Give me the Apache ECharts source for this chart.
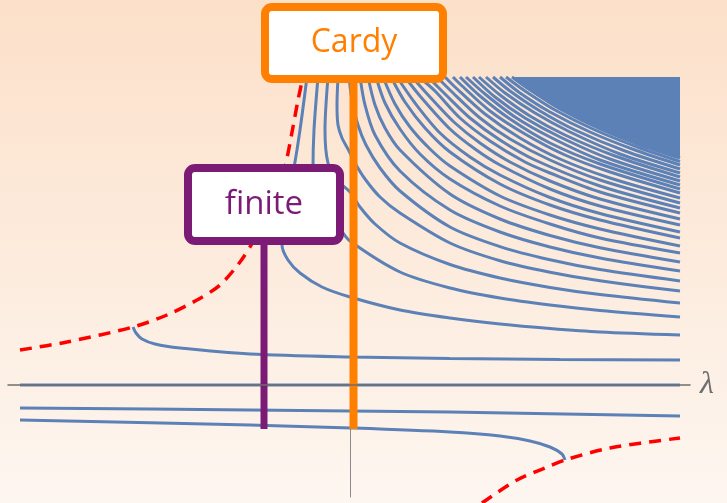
<!DOCTYPE html>
<html>
<head>
<meta charset="utf-8">
<script src="https://cdn.jsdelivr.net/npm/echarts@6/dist/echarts.min.js"></script>
<style>
  html, body { margin: 0; padding: 0; }
  #chart { width: 727px; height: 503px; }
</style>
</head>
<body>
<div id="chart"></div>
<script>
// Spectral flow of energy levels E(λ) under the deformation parameter λ.
// Every curve is a list of [λ, E] samples.

const zeroLevel = [[-3.30, 0], [3.30, 0]];
const levelA = [[-3.30, -0.23], [-1.00, -0.25], [1.00, -0.27], [3.30, -0.31]];
const levelB = [[-3.30, -0.35], [-1.00, -0.40], [0.01, -0.43], [1.00, -0.47], [1.50, -0.51],
                [1.80, -0.56], [2.00, -0.62], [2.12, -0.69], [2.15, -0.75]];
const levelC = [[-2.17, 0.58], [-2.14, 0.52], [-2.08, 0.46], [-1.95, 0.41], [-1.70, 0.37],
                [-1.00, 0.31], [0.01, 0.28], [1.00, 0.265], [2.10, 0.255], [3.30, 0.25]];

// excited levels, lowest first; most of them leave through the top of the frame
const upperLevels = [
  [[-0.43, 3.08], [-0.50, 2.55], [-0.56, 2.17], [-0.63, 1.80], [-0.68, 1.50], [-0.68, 1.40], [-0.62, 1.25], [-0.50, 1.12], [-0.28, 0.98], [0.00, 0.88], [0.50, 0.75], [1.00, 0.67], [1.50, 0.61], [2.00, 0.565], [2.50, 0.53], [3.30, 0.50]],
  [[-0.32, 3.08], [-0.36, 2.55], [-0.37, 2.17], [-0.33, 1.90], [-0.22, 1.70], [-0.10, 1.56], [0.00, 1.44], [0.50, 1.13], [1.00, 0.97], [1.50, 0.87], [2.00, 0.80], [2.50, 0.745], [3.30, 0.68]],
  [[-0.22, 3.08], [-0.25, 2.55], [-0.22, 2.22], [-0.12, 2.04], [0.00, 1.93], [0.10, 1.78], [0.25, 1.61], [0.50, 1.42], [1.00, 1.205], [1.50, 1.07], [2.00, 0.976], [2.50, 0.905], [3.30, 0.82]],
  [[-0.12, 3.08], [-0.13, 2.80], [-0.12, 2.60], [-0.08, 2.47], [-0.02, 2.36], [0.05, 2.22], [0.15, 2.06], [0.30, 1.88], [0.50, 1.72], [1.00, 1.42], [1.50, 1.243], [2.00, 1.128], [2.50, 1.042], [3.30, 0.94]],
  [[-0.01, 3.08], [0.02, 2.85], [0.08, 2.60], [0.16, 2.40], [0.30, 2.17], [0.50, 1.94], [1.00, 1.58], [1.50, 1.384], [2.00, 1.252], [2.50, 1.154], [3.30, 1.04]],
  [[0.10, 3.08], [0.15, 2.80], [0.25, 2.50], [0.50, 2.14], [1.00, 1.75], [1.50, 1.53], [2.00, 1.38], [2.50, 1.27], [3.30, 1.14]],
  [[0.18, 3.08], [0.25, 2.80], [0.35, 2.57], [0.50, 2.35], [1.00, 1.91], [1.50, 1.66], [2.00, 1.495], [2.50, 1.373], [3.30, 1.23]],
  [[0.26, 3.08], [0.35, 2.82], [0.50, 2.56], [0.70, 2.31], [1.00, 2.06], [1.50, 1.79], [2.00, 1.61], [2.50, 1.47], [3.30, 1.32]],
  [[0.33, 3.08], [0.45, 2.81], [0.60, 2.58], [0.80, 2.36], [1.00, 2.19], [1.50, 1.89], [2.00, 1.70], [2.50, 1.56], [3.30, 1.39]],
  [[0.41, 3.08], [0.55, 2.83], [0.75, 2.57], [1.00, 2.33], [1.50, 2.01], [2.00, 1.80], [2.50, 1.65], [3.30, 1.47]],
  [[0.47, 3.08], [0.65, 2.82], [0.90, 2.52], [1.20, 2.28], [1.50, 2.10], [2.00, 1.875], [2.50, 1.715], [3.30, 1.53]],
  [[0.55, 3.08], [0.70, 2.89], [1.00, 2.56], [1.25, 2.36], [1.50, 2.20], [2.00, 1.96], [2.50, 1.79], [3.30, 1.60]],
  [[0.62, 3.08], [0.80, 2.88], [1.05, 2.62], [1.30, 2.42], [1.60, 2.23], [2.00, 2.04], [2.50, 1.86], [3.30, 1.66]],
  [[0.69, 3.08], [0.85, 2.94], [1.10, 2.67], [1.40, 2.44], [1.75, 2.23], [2.00, 2.12], [2.50, 1.93], [3.30, 1.72]],
  [[0.78, 3.08], [0.95, 2.91], [1.20, 2.67], [1.50, 2.45], [1.85, 2.25], [2.50, 1.99], [3.30, 1.77]],
  [[0.87, 3.08], [1.00, 2.95], [1.30, 2.67], [1.60, 2.46], [2.00, 2.25], [2.50, 2.05], [3.30, 1.82]],
  [[0.95, 3.08], [1.05, 2.98], [1.35, 2.71], [1.70, 2.47], [2.10, 2.26], [2.60, 2.07], [3.30, 1.87]],
  [[1.03, 3.08], [1.10, 3.01], [1.40, 2.74], [1.75, 2.51], [2.15, 2.30], [2.60, 2.13], [3.30, 1.92]],
  [[1.10, 3.08], [1.30, 2.89], [1.60, 2.66], [2.00, 2.42], [2.50, 2.21], [3.30, 1.96]],
  [[1.16, 3.08], [1.35, 2.91], [1.65, 2.68], [2.00, 2.48], [2.50, 2.25], [3.30, 2.00]],
  [[1.23, 3.08], [1.45, 2.88], [1.75, 2.67], [2.10, 2.48], [2.60, 2.26], [3.30, 2.04]],
  [[1.29, 3.08], [1.50, 2.90], [1.80, 2.69], [2.15, 2.50], [2.65, 2.29], [3.30, 2.08]],
  [[1.36, 3.08], [1.55, 2.92], [1.85, 2.72], [2.20, 2.53], [2.70, 2.31], [3.30, 2.12]],
  [[1.43, 3.08], [1.60, 2.94], [1.90, 2.74], [2.25, 2.55], [2.75, 2.34], [3.30, 2.16]],
  [[1.50, 3.08], [1.70, 2.92], [2.00, 2.73], [2.40, 2.53], [2.85, 2.35], [3.30, 2.20]],
  [[1.56, 3.08], [1.75, 2.94], [2.05, 2.75], [2.45, 2.55], [2.90, 2.37], [3.30, 2.235]]
];

// the levels above merge into one band, filled up to the top of the frame
const denseEdge = [[1.62, 3.08], [1.80, 2.95], [2.10, 2.76], [2.50, 2.56], [2.90, 2.40], [3.30, 2.27]];

// branch-point curves where the levels end
const branchUpper = [[-3.30, 0.35], [-2.83, 0.43], [-2.17, 0.58], [-1.83, 0.70], [-1.53, 0.85],
                     [-1.30, 1.00], [-1.10, 1.23], [-0.97, 1.43], [-0.85, 1.65], [-0.75, 1.85],
                     [-0.65, 2.18], [-0.57, 2.58], [-0.52, 2.85], [-0.47, 3.08]];
const branchLower = [[1.32, -1.18], [1.67, -0.95], [1.95, -0.83], [2.15, -0.75], [2.60, -0.63], [3.30, -0.53]];

// marked couplings
const finiteLambda = -0.86;
const cardyLambda = 0.035;
const finiteLine = [[finiteLambda, 1.45], [finiteLambda, -0.44]];
const cardyLine = [[cardyLambda, 3.08], [cardyLambda, -0.44]];
const finiteTag = [[finiteLambda, 1.805]];
const cardyTag = [[0.04, 3.42]];

const BLUE = '#5c81b7';
const RED = '#ff0000';
const ORANGE = '#ff7f00';
const PURPLE = '#7b1b76';

function flowLine(data, extra) {
  return Object.assign({
    type: 'line', data: data, symbol: 'none', smooth: 0.3, silent: true,
    lineStyle: { color: BLUE, width: 3 }, z: 2
  }, extra || {});
}

const series = [];
series.push(flowLine(denseEdge, { areaStyle: { origin: 'end', color: BLUE, opacity: 1 } }));
upperLevels.forEach(d => series.push(flowLine(d)));
series.push(flowLine(zeroLevel, { smooth: false }));
series.push(flowLine(levelA));
series.push(flowLine(levelB));
series.push(flowLine(levelC));

series.push({
  type: 'line', data: branchUpper, symbol: 'none', smooth: 0.3, silent: true, z: 4,
  lineStyle: { color: RED, width: 3.5, type: [12, 8] }
});
series.push({
  type: 'line', data: branchLower, symbol: 'none', smooth: 0.3, silent: true, z: 4, clip: false,
  lineStyle: { color: RED, width: 3.5, type: [12, 8] }
});
series.push({
  type: 'line', data: finiteLine, symbol: 'none', silent: true, z: 6,
  lineStyle: { color: PURPLE, width: 7, cap: 'butt' }
});
series.push({
  type: 'line', data: cardyLine, symbol: 'none', silent: true, z: 6,
  lineStyle: { color: ORANGE, width: 8, cap: 'butt' }
});

function tag(data, text, color, w, h, size) {
  return {
    type: 'scatter', data: data, symbolSize: 0, clip: false, silent: true, z: 10,
    itemStyle: { opacity: 1 },
    label: {
      show: true, position: 'inside', formatter: text, opacity: 1,
      fontFamily: 'Open Sans', fontSize: size, color: color,
      backgroundColor: '#ffffff', borderColor: color, borderWidth: 8, borderRadius: 3,
      width: w, height: h, lineHeight: h, align: 'center', verticalAlign: 'middle'
    }
  };
}
series.push(tag(cardyTag, 'Cardy', ORANGE, 170, 64, 32));
series.push(tag(finiteTag, 'f\u200Cinite', PURPLE, 144, 65, 33));

const chart = echarts.init(document.getElementById('chart'));
chart.setOption({
  animation: false,
  backgroundColor: {
    type: 'linear', x: 0, y: 0, x2: 0, y2: 1,
    colorStops: [{ offset: 0, color: '#fce0c9' }, { offset: 1, color: '#fdf6f0' }]
  },
  grid: { left: 8, right: 37, top: 77, bottom: 6 },
  xAxis: {
    type: 'value', min: -3.42, max: 3.40, z: 8,
    name: 'λ', nameLocation: 'end', nameGap: 10,
    nameTextStyle: { fontSize: 32, fontStyle: 'italic', color: '#6e6e6e', fontFamily: 'Liberation Serif', verticalAlign: 'middle' },
    axisLine: { onZero: true, lineStyle: { color: '#6e6e6e', width: 1.5 } },
    axisTick: { show: false }, axisLabel: { show: false }, splitLine: { show: false }
  },
  yAxis: {
    type: 'value', min: -1.12, max: 3.08, z: 1,
    axisLine: { onZero: true, lineStyle: { color: '#8a8a8a', width: 1 } },
    axisTick: { show: false }, axisLabel: { show: false }, splitLine: { show: false }
  },
  series: series
});
</script>
</body>
</html>
